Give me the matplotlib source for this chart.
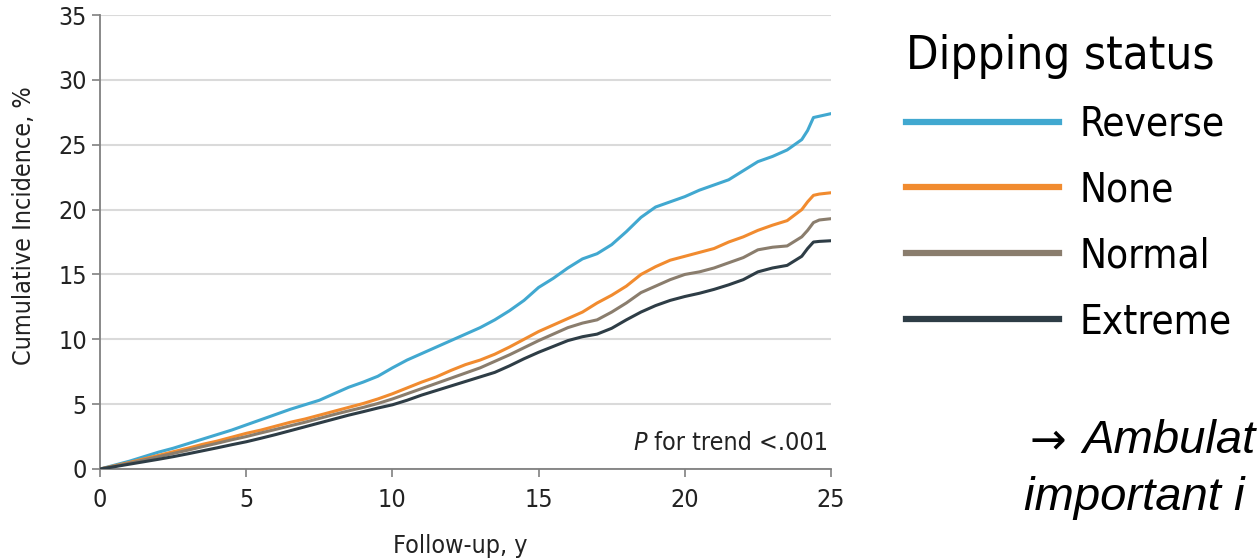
import matplotlib.pyplot as plt

plt.rcParams["font.family"] = ["DejaVu Sans"]
plt.rcParams["font.stretch"] = "condensed"

# follow-up time (years) shared by all curves
anos = [
    0, 0.5, 1, 1.5, 2, 2.5, 3, 3.5, 4, 4.5, 5, 5.5, 6, 6.5, 7, 7.5, 8, 8.5, 9, 9.5,
    10, 10.5, 11, 11.5, 12, 12.5, 13, 13.5, 14, 14.5, 15, 15.5, 16, 16.5, 17, 17.5,
    18, 18.5, 19, 19.5, 20, 20.5, 21, 21.5, 22, 22.5, 23, 23.5, 24, 24.2, 24.4, 24.6, 25,
]

reverse = [
    0, 0.3, 0.6, 0.95, 1.3, 1.6, 1.95, 2.3, 2.65, 3.0, 3.4, 3.8, 4.2, 4.6, 4.95, 5.3,
    5.8, 6.3, 6.7, 7.15, 7.8, 8.4, 8.9, 9.4, 9.9, 10.4, 10.9, 11.5, 12.2, 13.0, 14.0,
    14.7, 15.5, 16.2, 16.6, 17.3, 18.3, 19.4, 20.2, 20.6, 21.0, 21.5, 21.9, 22.3, 23.0,
    23.7, 24.1, 24.6, 25.4, 26.1, 27.1, 27.2, 27.4,
]
none = [
    0, 0.25, 0.5, 0.78, 1.05, 1.33, 1.6, 1.9, 2.15, 2.45, 2.75, 3.0, 3.3, 3.6, 3.85,
    4.15, 4.45, 4.75, 5.05, 5.4, 5.8, 6.25, 6.7, 7.1, 7.6, 8.05, 8.4, 8.85, 9.4, 10.0,
    10.6, 11.1, 11.6, 12.1, 12.8, 13.4, 14.1, 15.0, 15.6, 16.1, 16.4, 16.7, 17.0, 17.5,
    17.9, 18.4, 18.8, 19.15, 20.0, 20.6, 21.1, 21.2, 21.3,
]
normal = [
    0, 0.22, 0.45, 0.7, 0.95, 1.2, 1.45, 1.72, 1.98, 2.25, 2.5, 2.78, 3.05, 3.33, 3.6,
    3.9, 4.2, 4.48, 4.75, 5.05, 5.4, 5.8, 6.2, 6.6, 7.0, 7.4, 7.8, 8.3, 8.8, 9.35, 9.9,
    10.4, 10.9, 11.25, 11.5, 12.1, 12.8, 13.6, 14.1, 14.6, 15.0, 15.2, 15.5, 15.9, 16.3,
    16.9, 17.1, 17.2, 17.9, 18.4, 19.0, 19.2, 19.3,
]
extreme = [
    0, 0.18, 0.37, 0.56, 0.75, 0.95, 1.17, 1.4, 1.63, 1.87, 2.1, 2.37, 2.65, 2.95, 3.25,
    3.55, 3.85, 4.15, 4.42, 4.7, 4.95, 5.3, 5.7, 6.05, 6.4, 6.75, 7.1, 7.45, 7.95, 8.5,
    9.0, 9.45, 9.9, 10.2, 10.4, 10.85, 11.5, 12.1, 12.6, 13.0, 13.3, 13.55, 13.85, 14.2,
    14.6, 15.2, 15.5, 15.7, 16.4, 17.0, 17.5, 17.55, 17.6,
]

grupos = ["Reverse", "None", "Normal", "Extreme"]
cores = ["#41A8D0", "#F18B2F", "#8A7D6D", "#2E3D46"]

fig = plt.figure(figsize=(12.57, 5.58), dpi=100)
ax = fig.add_axes([0.0796, 0.1595, 0.5815, 0.8135])

linhas = []
for serie, nome, cor in zip([reverse, none, normal, extreme], grupos, cores):
    (linha,) = ax.plot(anos, serie, color=cor, linewidth=2.2, label=nome, zorder=3)
    linhas.append(linha)

ax.set_xlim(0, 25)
ax.set_ylim(0, 35)
ax.set_xticks(range(0, 26, 5))
ax.set_yticks(range(0, 36, 5))
ax.yaxis.grid(True, color="#dadada", linewidth=1.5)
ax.set_axisbelow(True)

for lado in ["top", "right"]:
    ax.spines[lado].set_visible(False)
for lado in ["left", "bottom"]:
    ax.spines[lado].set_color("#808080")
    ax.spines[lado].set_linewidth(1.3)
ax.tick_params(axis="both", length=6, width=1.2, color="#808080",
               labelsize=18, labelcolor="#222222")
ax.tick_params(axis="x", pad=8)

ax.set_xlabel("Follow-up, y", fontsize=18, color="#222222")
ax.set_ylabel("Cumulative Incidence, %", fontsize=18, color="#222222")
ax.xaxis.set_label_coords(0.4925, -0.144)
ax.yaxis.set_label_coords(-0.088, 0.537)

# p-value note, with the P set in italic just before the rest
nota = ax.text(24.9, 1.45, " for trend <.001", ha="right", va="baseline",
               fontsize=18, color="#222222")
ax.annotate("P", xy=(0, 0), xycoords=nota, ha="right", va="bottom",
            fontsize=18, color="#222222", style="italic")

leg = fig.legend(
    handles=linhas,
    title="Dipping status",
    loc="upper left",
    bbox_to_anchor=(0.708, 0.968),
    frameon=False,
    fontsize=29,
    title_fontsize=34,
    handlelength=3.8,
    handletextpad=0.5,
    labelspacing=0.64,
    alignment="left",
    borderaxespad=0,
)
for linha in leg.get_lines():
    linha.set_linewidth(4.5)

texto_lateral = dict(fontsize=34, style="italic", va="baseline",
                     family=["Liberation Sans", "DejaVu Sans"], stretch="normal")
fig.text(0.819, 0.188, "\u2192", fontsize=31.5, va="baseline",
         family=["DejaVu Sans"], stretch="normal")
fig.text(0.861, 0.188, "Ambulat", **texto_lateral)
fig.text(0.815, 0.086, "important i", **texto_lateral)

fig.savefig("out.png", dpi=100)
